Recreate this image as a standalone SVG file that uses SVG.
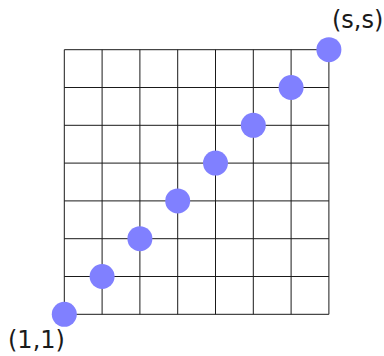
<svg xmlns="http://www.w3.org/2000/svg" width="384" height="356" viewBox="0 0 384 356">
<style>
.g{stroke:#1a1a1a;stroke-width:1;fill:none}
.d{fill:#8080ff;stroke:none}
.t{font-family:"DejaVu Sans",sans-serif;font-size:24px;fill:#1a1a1a}
</style>
<rect width="384" height="356" fill="#fff"/>
<g id="grid" class="g">
<path d="M64.3 49.7V314.3M102.1 49.7V314.3M139.9 49.7V314.3M177.7 49.7V314.3M215.5 49.7V314.3M253.3 49.7V314.3M291.1 49.7V314.3M328.9 49.7V314.3"/>
<path d="M64.3 49.7H328.9M64.3 87.5H328.9M64.3 125.3H328.9M64.3 163.1H328.9M64.3 200.9H328.9M64.3 238.7H328.9M64.3 276.5H328.9M64.3 314.3H328.9"/>
</g>
<g id="p0"><circle class="d" cx="64.3" cy="314.3" r="12.5"/></g>
<g id="p1"><circle class="d" cx="102.1" cy="276.5" r="12.5"/></g>
<g id="p2"><circle class="d" cx="139.9" cy="238.7" r="12.5"/></g>
<g id="p3"><circle class="d" cx="177.7" cy="200.9" r="12.5"/></g>
<g id="p4"><circle class="d" cx="215.5" cy="163.1" r="12.5"/></g>
<g id="p5"><circle class="d" cx="253.3" cy="125.3" r="12.5"/></g>
<g id="p6"><circle class="d" cx="291.1" cy="87.5" r="12.5"/></g>
<g id="p7"><circle class="d" cx="328.9" cy="49.7" r="12.5"/></g>
<g id="labels">
<text class="t" x="8" y="348">(1,1)</text>
<text class="t" x="332" y="28">(s,s)</text>
</g>
</svg>
